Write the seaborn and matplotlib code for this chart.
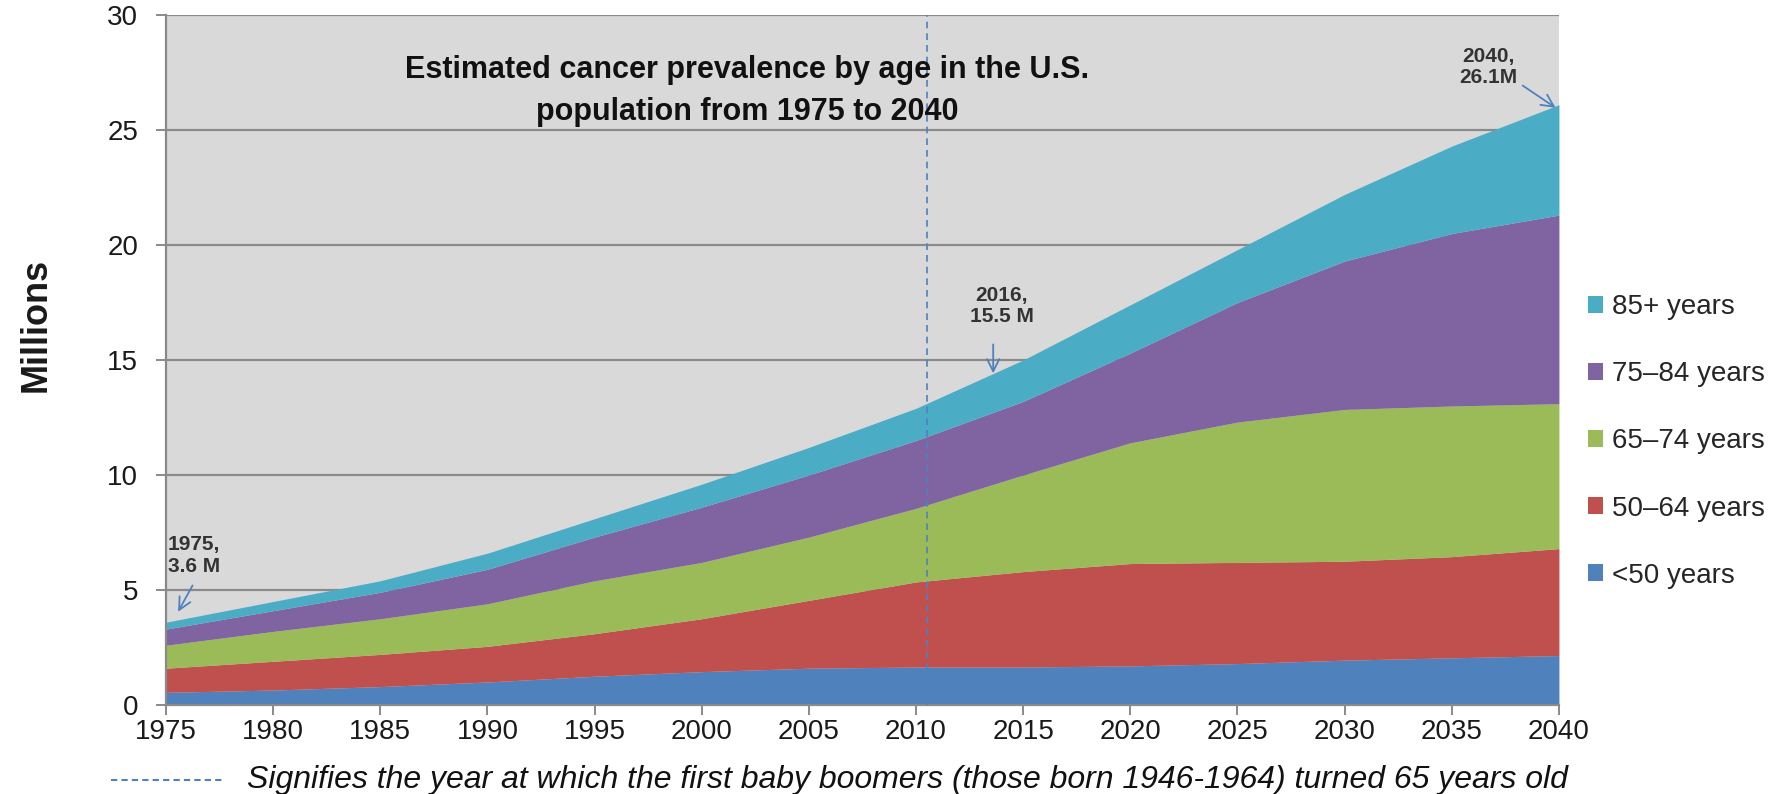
import matplotlib
matplotlib.use("Agg")
import matplotlib.pyplot as plt
import seaborn as sns
import pandas as pd
import numpy as np

# values (millions per age band)
years = [1975, 1980, 1985, 1990, 1995, 2000, 2005, 2010, 2015, 2020, 2025, 2030, 2035, 2040]
under_50 = [0.55, 0.65, 0.80, 1.00, 1.25, 1.45, 1.60, 1.65, 1.65, 1.70, 1.80, 1.95, 2.05, 2.15]
age_50_64 = [1.05, 1.25, 1.40, 1.55, 1.85, 2.30, 2.95, 3.70, 4.15, 4.45, 4.40, 4.30, 4.40, 4.65]
age_65_74 = [1.00, 1.30, 1.55, 1.85, 2.30, 2.45, 2.75, 3.20, 4.20, 5.25, 6.10, 6.60, 6.55, 6.30]
age_75_84 = [0.70, 0.90, 1.15, 1.50, 1.90, 2.40, 2.70, 2.95, 3.20, 3.90, 5.20, 6.45, 7.50, 8.20]
age_85_up = [0.30, 0.40, 0.50, 0.70, 0.80, 1.00, 1.20, 1.40, 1.80, 2.10, 2.30, 2.90, 3.80, 4.80]

group_names = ['<50 years', '50\u201364 years', '65\u201374 years', '75\u201384 years', '85+ years']
group_colors = ['#4F81BD', '#C0504D', '#9BBB59', '#8064A2', '#4BACC6']

boomer_year = 2010.5

df = pd.DataFrame({
    'year': years,
    group_names[0]: under_50,
    group_names[1]: age_50_64,
    group_names[2]: age_65_74,
    group_names[3]: age_75_84,
    group_names[4]: age_85_up,
})

sns.set_style("whitegrid", {
    'axes.facecolor': '#D9D9D9',
    'grid.color': '#8A8A8A',
    'axes.edgecolor': '#8A8A8A',
})
plt.rcParams['font.family'] = ['Liberation Sans', 'DejaVu Sans']

fig = plt.figure(figsize=(17.89, 7.94), dpi=100)
ax = fig.add_axes([0.0928, 0.1121, 0.7786, 0.8690])

ax.stackplot(df['year'], [df[g] for g in group_names], colors=group_colors,
             labels=group_names, linewidth=0, zorder=2)

ax.set_xlim(1975, 2040)
ax.set_ylim(0, 30)
ax.set_xticks(range(1975, 2041, 5))
ax.set_yticks(range(0, 31, 5))
ax.grid(axis='x', visible=False)
ax.grid(axis='y', linewidth=1.6, zorder=1)
ax.set_axisbelow(True)
for side in ['top', 'right']:
    ax.spines[side].set_visible(False)
ax.spines['left'].set_linewidth(1.6)
ax.spines['bottom'].set_linewidth(1.6)
ax.tick_params(axis='both', labelsize=20, labelcolor='#1A1A1A', color='#8A8A8A',
               length=7, width=1.4, direction='out', bottom=True, left=True)
ax.tick_params(axis='y', pad=13)
ax.tick_params(axis='x', pad=3)

ax.set_ylabel('')
ax.text(-0.0935, 0.551, 'Millions', transform=ax.transAxes, rotation=90,
        ha='center', va='center', fontsize=26, fontweight='bold', color='#1A1A1A')

ax.axvline(boomer_year, color='#4F81BD', linestyle=(0, (4, 3)), linewidth=1.2, zorder=3)

ax.text(2002.1, 26.7, 'Estimated cancer prevalence by age in the U.S.\npopulation from 1975 to 2040',
        ha='center', va='center', fontsize=22, fontweight='bold', linespacing=1.5,
        color='#111111', zorder=4)

arrow_kw = dict(arrowstyle='->', color='#4F81BD', lw=1.3, mutation_scale=22)
ann_kw = dict(ha='center', va='center', fontsize=15, fontweight='bold', color='#333333',
              linespacing=1.15)
ax.annotate('', xy=(1975.5, 3.95), xytext=(1976.3, 5.3), arrowprops=arrow_kw, zorder=4)
ax.text(1976.3, 6.5, '1975,\n3.6 M', **ann_kw)
ax.annotate('', xy=(2013.6, 14.3), xytext=(2013.6, 15.8), arrowprops=arrow_kw, zorder=4)
ax.text(2014.0, 17.35, '2016,\n15.5 M', **ann_kw)
ax.annotate('', xy=(2039.95, 25.9), xytext=(2038.2, 27.0), arrowprops=arrow_kw, zorder=4)
ax.text(2036.7, 27.75, '2040,\n26.1M', **ann_kw)

handles, labels = ax.get_legend_handles_labels()
fig.legend(handles[::-1], labels[::-1], loc='center left', bbox_to_anchor=(0.8877, 0.444),
           frameon=False, fontsize=20, handlelength=0.55, handleheight=0.55,
           handletextpad=0.3, labelspacing=1.48, borderpad=0, borderaxespad=0)

fig.add_artist(plt.Line2D([0.062, 0.126], [0.0176, 0.0176], color='#4F81BD',
                          linestyle=(0, (3, 2)), linewidth=1.5))
fig.text(0.138, 0.0176, 'Signifies the year at which the first baby boomers (those born 1946-1964) turned 65 years old',
         ha='left', va='center', fontsize=23, fontstyle='italic', color='#111111')

fig.savefig('out.png', dpi=100)
